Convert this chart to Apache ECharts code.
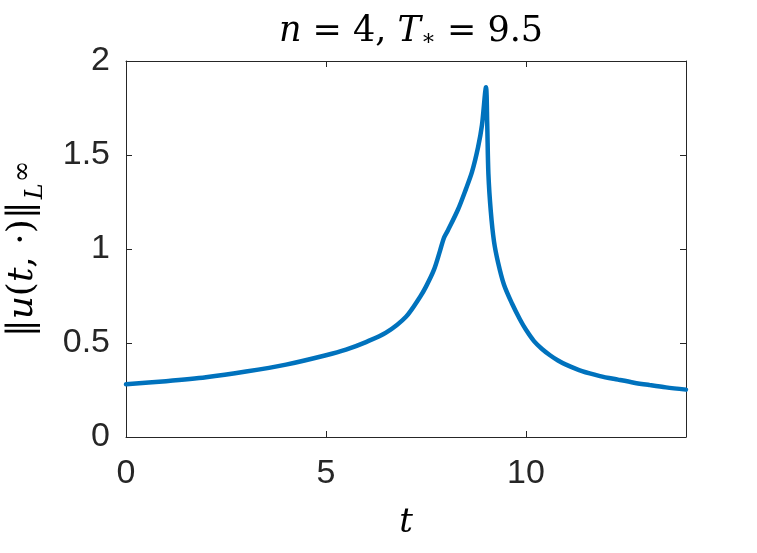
<!DOCTYPE html>
<html>
<head>
<meta charset="utf-8">
<script src="https://cdn.jsdelivr.net/npm/echarts@6/dist/echarts.min.js"></script>
<style>
  html, body { margin: 0; padding: 0; background: #fff; }
  #main { width: 757px; height: 553px; }
</style>
</head>
<body>
<div id="main"></div>
<script>
// values
var tValues = [0, 1, 2, 3, 4, 5, 5.5, 6, 6.5, 7, 7.35, 7.5, 7.7, 7.85, 7.95, 8.05, 8.3, 8.5, 8.65, 8.8, 8.9, 9.0,
    9.03, 9.06, 9.12, 9.2, 9.3, 9.45, 9.65, 9.85, 10.0, 10.2, 10.4, 10.6, 10.8, 11.0, 11.4, 11.85, 12.3, 12.7, 13.1, 13.5, 14];
var uNorm = [0.28, 0.297, 0.318, 0.348, 0.385, 0.435, 0.465, 0.505, 0.555, 0.64, 0.745, 0.8, 0.89, 0.99, 1.06, 1.1, 1.21, 1.32, 1.41, 1.54, 1.66, 1.86,
    1.67, 1.40, 1.20, 1.04, 0.93, 0.81, 0.71, 0.625, 0.57, 0.51, 0.468, 0.435, 0.407, 0.385, 0.35, 0.324, 0.305, 0.289, 0.276, 0.264, 0.252];
var xTicks = [0, 5, 10];
var yTicks = [0, 0.5, 1, 1.5, 2];

var lineData = tValues.map(function (t, i) { return [t, uNorm[i]]; });

var axisColor = '#262626';
var serif = '"DejaVu Serif", "Liberation Serif", serif';
var sans = '"Liberation Sans", Arial, sans-serif';

var myChart = echarts.init(document.getElementById('main'));

var option = {
    backgroundColor: '#fff',
    animation: false,
    title: {
        text: '{i|n}{r| = 4, }{i|T}{s|∗}{r| = 9.5}',
        left: 406,
        textAlign: 'center',
        top: 9,
        textStyle: {
            fontWeight: 'normal',
            rich: {
                i: { fontFamily: serif, fontStyle: 'italic', fontWeight: 'normal', fontSize: 35, color: '#000' },
                r: { fontFamily: serif, fontWeight: 'normal', fontSize: 35, color: '#000' },
                s: { fontFamily: serif, fontWeight: 'normal', fontSize: 22, color: '#000', verticalAlign: 'bottom', padding: [14, 0, 0, 0] }
            }
        }
    },
    grid: { left: 126, right: 71, top: 61, bottom: 116, containLabel: false, outerBoundsMode: 'none' },
    xAxis: [{
        type: 'value',
        min: 0, max: 14, interval: 5,
        name: 't',
        nameLocation: 'middle',
        nameGap: 69,
        nameTextStyle: { fontFamily: serif, fontStyle: 'italic', fontSize: 34, color: '#000' },
        axisLine: { show: true, lineStyle: { color: axisColor, width: 1 } },
        axisTick: { show: true, inside: true, length: 6, lineStyle: { color: axisColor } },
        axisLabel: {
            margin: 20, fontSize: 34, fontFamily: sans, color: axisColor,
            formatter: function (v) { return xTicks.indexOf(v) >= 0 ? String(v) : ''; }
        },
        splitLine: { show: false }
    }, {
        type: 'value', position: 'top',
        min: 0, max: 14, interval: 5,
        axisLine: { show: true, onZero: false, lineStyle: { color: axisColor, width: 1 } },
        axisTick: { show: true, inside: true, length: 6, lineStyle: { color: axisColor } },
        axisLabel: { show: false },
        splitLine: { show: false }
    }],
    yAxis: [{
        type: 'value',
        min: 0, max: 2, interval: 0.5,
        name: '{n|‖}{i|u}{n|(}{i|t}{n|, ·)‖}{l|L}{inf|∞}',
        nameLocation: 'middle',
        nameRotate: 90,
        nameGap: 78,
        nameTextStyle: {
            color: '#000',
            rich: {
                n: { fontFamily: serif, fontSize: 36, color: '#000', lineHeight: 50, verticalAlign: 'middle' },
                i: { fontFamily: serif, fontStyle: 'italic', fontSize: 36, color: '#000', lineHeight: 50, verticalAlign: 'middle' },
                l: { fontFamily: serif, fontStyle: 'italic', fontSize: 24, color: '#000', lineHeight: 50, verticalAlign: 'bottom', padding: [0, 0, 0, 2] },
                inf: { fontFamily: serif, fontSize: 26, color: '#000', lineHeight: 50, verticalAlign: 'bottom', padding: [0, 0, 12, 1] }
            }
        },
        axisLine: { show: true, lineStyle: { color: axisColor, width: 1 } },
        axisTick: { show: true, inside: true, length: 6, lineStyle: { color: axisColor } },
        axisLabel: {
            margin: 16, fontSize: 34, fontFamily: sans, color: axisColor,
            formatter: function (v) { return yTicks.indexOf(v) >= 0 ? String(v) : ''; }
        },
        splitLine: { show: false }
    }, {
        type: 'value', position: 'right',
        min: 0, max: 2, interval: 0.5,
        axisLine: { show: true, onZero: false, lineStyle: { color: axisColor, width: 1 } },
        axisTick: { show: true, inside: true, length: 6, lineStyle: { color: axisColor } },
        axisLabel: { show: false },
        splitLine: { show: false }
    }],
    series: [{
        type: 'line',
        data: lineData,
        smooth: 0.3,
        showSymbol: false,
        lineStyle: { color: '#0072BD', width: 4.5, cap: 'round', join: 'round' },
        clip: false
    }]
};

myChart.setOption(option);
</script>
</body>
</html>
